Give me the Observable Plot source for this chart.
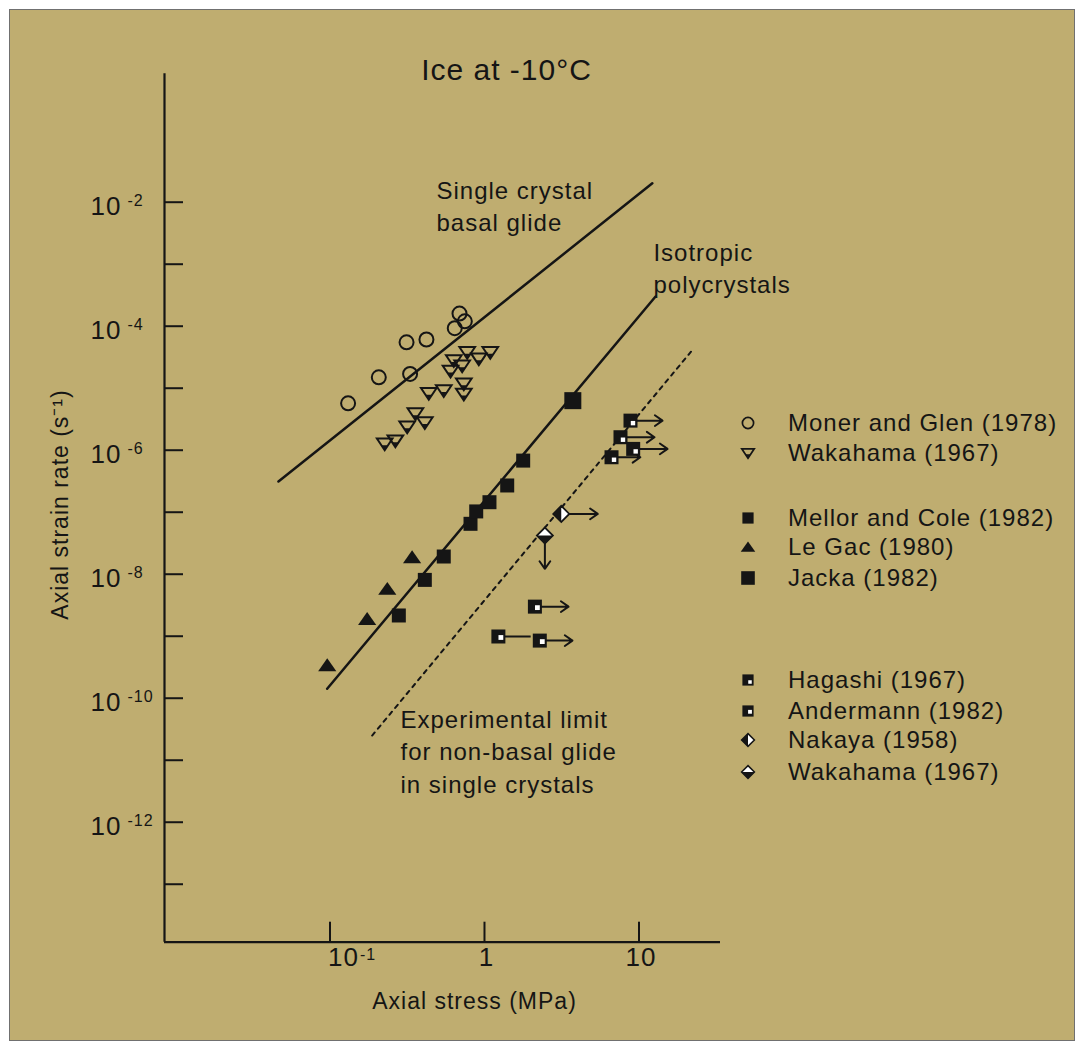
<!DOCTYPE html>
<html>
<head>
<meta charset="utf-8">
<script src="https://cdn.jsdelivr.net/npm/d3@7"></script>
<script src="https://cdn.jsdelivr.net/npm/@observablehq/plot@0.6"></script>
<style>
  html, body { margin: 0; padding: 0; background: #ffffff; }
  #panel { position: absolute; left: 10px; top: 10px; width: 1064px; height: 1030px;
           background: #BFAD70; outline: 1px solid #707070;
           font-family: "Liberation Sans", Arial, sans-serif; color: #151515; }
  #panel svg { position: absolute; left: 0; top: 0; overflow: visible; }
  #panel svg text { letter-spacing: 1px; }
</style>
</head>
<body>
<div id="panel"></div>
<script>
// ---------- axis extents and ticks ----------
const xDomain = [10 ** -2.071, 10 ** 1.5275];     // axial stress, MPa
const yDomain = [10 ** -13.935, 10 ** 0.071];     // axial strain rate, 1/s

const xTickValues = [0.1, 1, 10];
const xTickBase = ["10", "1", "10"];
const xTickExp = ["-1", "", ""];

const yTickValues = [1e-2, 1e-3, 1e-4, 1e-5, 1e-6, 1e-7, 1e-8, 1e-9, 1e-10, 1e-11, 1e-12, 1e-13];
const yLabelValues = [1e-2, 1e-4, 1e-6, 1e-8, 1e-10, 1e-12];
const yLabelExps = ["-2", "-4", "-6", "-8", "-10", "-12"];

// ---------- reference lines (end points) ----------
const basalStress = [0.0464, 12.2];
const basalRate = [3.13e-7, 2.02e-2];
const isoStress = [0.0959, 12.8];
const isoRate = [1.42e-10, 3.01e-4];
const limitStress = [0.1875, 22.2];
const limitRate = [2.5e-11, 4.15e-5];

// ---------- data series ----------
const monerStress = [0.131, 0.207, 0.313, 0.421, 0.330, 0.642, 0.689, 0.746];
const monerRate   = [5.7e-6, 1.5e-5, 5.5e-5, 6.1e-5, 1.7e-5, 9.3e-5, 1.6e-4, 1.2e-4];

const wakahamaStress = [0.226, 0.265, 0.316, 0.357, 0.411, 0.436, 0.545, 0.603, 0.633, 0.717, 0.773, 0.919, 1.09, 0.735, 0.735];
const wakahamaRate   = [1.27e-6, 1.43e-6, 2.4e-6, 3.9e-6, 2.8e-6, 8.3e-6, 9.2e-6, 1.9e-5, 2.8e-5, 2.3e-5, 3.8e-5, 3.0e-5, 3.8e-5, 1.18e-5, 8.1e-6];

const mellorStress = [0.279, 0.411, 0.545, 0.812, 0.884, 1.077, 1.403, 1.78];
const mellorRate   = [2.16e-9, 8.1e-9, 1.93e-8, 6.5e-8, 1.03e-7, 1.45e-7, 2.7e-7, 6.8e-7];

const legacStress = [0.096, 0.174, 0.235, 0.340];
const legacRate   = [3.4e-10, 1.9e-9, 5.8e-9, 1.88e-8];

const jackaStress = [3.73];
const jackaRate   = [6.3e-6];

const hagashiStress   = [8.81, 7.59, 9.17, 6.64];
const hagashiRate     = [3.0e-6, 1.62e-6, 1.05e-6, 7.7e-7];
const hagashiArrowTo  = [14.2, 12.6, 15.3, 10.2];

const andermannStress  = [2.12, 1.23, 2.28];
const andermannRate    = [3.0e-9, 9.9e-10, 8.5e-10];
const andermannArrowTo = [3.5, 1.99, 3.71];
const andermannHead    = [true, false, true];

const nakayaStress  = [3.14];
const nakayaRate    = [9.4e-8];
const nakayaArrowTo = [5.41];

const wakahama2Stress   = [2.46];
const wakahama2Rate     = [4.2e-8];
const wakahama2RateTo   = [1.22e-8];

// ---------- texts ----------
const titleText = "Ice at -10°C";
const xLabelText = "Axial stress (MPa)";
const yLabelText = "Axial strain rate (s⁻¹)";
const annoText   = ["Single crystal\nbasal glide", "Isotropic\npolycrystals", "Experimental limit\nfor non-basal glide\nin single crystals"];
const annoStress = [0.489, 12.4, 0.286];
const annoRate   = [9.2e-3, 9.2e-4, 1.46e-11];

const legendKeys = ["moner", "wakahama", "mellor", "legac", "jacka", "hagashi", "andermann", "nakaya", "wakahama2"];
const legendLabels = ["Moner and Glen (1978)", "Wakahama (1967)", "Mellor and Cole (1982)", "Le Gac (1980)", "Jacka (1982)",
                      "Hagashi (1967)", "Andermann (1982)", "Nakaya (1958)", "Wakahama (1967)"];

// ---------- styling ----------
const INK = "#151515";
const rad = s => Math.sqrt(s / Math.PI);
const sym = {
  tri:   {draw(c, s) { const a = rad(s); c.moveTo(0, -a); c.lineTo(1.3 * a, 0.85 * a); c.lineTo(-1.3 * a, 0.85 * a); c.closePath(); }},
  invTri:{draw(c, s) { const a = rad(s); c.moveTo(0, a); c.lineTo(1.2 * a, -0.8 * a); c.lineTo(-1.2 * a, -0.8 * a); c.closePath(); }},
  sq:    {draw(c, s) { const a = rad(s); c.rect(-a, -a, 2 * a, 2 * a); }},
  diamond:{draw(c, s) { const a = rad(s); c.moveTo(0, -a); c.lineTo(a, 0); c.lineTo(0, a); c.lineTo(-a, 0); c.closePath(); }},
  halfLeft:{draw(c, s) { const a = rad(s); c.moveTo(0, -a); c.lineTo(-a, 0); c.lineTo(0, a); c.closePath(); }},
  halfBottom:{draw(c, s) { const a = rad(s); c.moveTo(-a, 0); c.lineTo(0, a); c.lineTo(a, 0); c.closePath(); }},
  circle: d3.symbolCircle
};
const styles = {
  moner:     [{symbol: sym.circle, r: 7, fill: "none", stroke: INK, strokeWidth: 2}],
  wakahama:  [{symbol: sym.invTri, r: 6.5, fill: "none", stroke: INK, strokeWidth: 2}, {symbol: sym.invTri, r: 2.4, fill: INK, dy: 3.5}],
  mellor:    [{symbol: sym.sq, r: 7, fill: INK}],
  legac:     [{symbol: sym.tri, r: 7, fill: INK}],
  jacka:     [{symbol: sym.sq, r: 8.5, fill: INK}],
  hagashi:   [{symbol: sym.sq, r: 7, fill: INK}, {symbol: sym.sq, r: 2.2, fill: "#ffffff", dx: 2.5, dy: 2.5}],
  andermann: [{symbol: sym.sq, r: 7, fill: INK}, {symbol: sym.sq, r: 2.4, fill: "#ffffff", dx: 2.5, dy: 1}],
  nakaya:    [{symbol: sym.diamond, r: 8, fill: "#ffffff", stroke: INK, strokeWidth: 1.8}, {symbol: sym.halfLeft, r: 8, fill: INK}],
  wakahama2: [{symbol: sym.diamond, r: 8, fill: "#ffffff", stroke: INK, strokeWidth: 1.8}, {symbol: sym.halfBottom, r: 8, fill: INK}]
};

const seriesData = {
  moner: [monerStress, monerRate],
  wakahama: [wakahamaStress, wakahamaRate],
  mellor: [mellorStress, mellorRate],
  legac: [legacStress, legacRate],
  jacka: [jackaStress, jackaRate],
  hagashi: [hagashiStress, hagashiRate],
  andermann: [andermannStress, andermannRate],
  nakaya: [nakayaStress, nakayaRate],
  wakahama2: [wakahama2Stress, wakahama2Rate]
};

// ---------- build marks ----------
const toPts = (xs, ys) => xs.map((x, i) => ({x, y: ys[i]}));
const andermannSegs = andermannStress.map((x, i) => ({x1: x, x2: andermannArrowTo[i], y1: andermannRate[i], y2: andermannRate[i], head: andermannHead[i]}));
const arrowsH = [
  ...hagashiStress.map((x, i) => ({x1: x, x2: hagashiArrowTo[i], y1: hagashiRate[i], y2: hagashiRate[i]})),
  ...andermannSegs.filter(d => d.head),
  ...nakayaStress.map((x, i) => ({x1: x, x2: nakayaArrowTo[i], y1: nakayaRate[i], y2: nakayaRate[i]})),
  ...wakahama2Stress.map((x, i) => ({x1: x, x2: x, y1: wakahama2Rate[i], y2: wakahama2RateTo[i]}))
];
const linksPlain = andermannSegs.filter(d => !d.head);

const marks = [
  Plot.line(toPts(basalStress, basalRate), {x: "x", y: "y", stroke: INK, strokeWidth: 2.5}),
  Plot.line(toPts(isoStress, isoRate), {x: "x", y: "y", stroke: INK, strokeWidth: 2.5}),
  Plot.line(toPts(limitStress, limitRate), {x: "x", y: "y", stroke: INK, strokeWidth: 2, strokeDasharray: "4,5"}),
  Plot.arrow(arrowsH, {x1: "x1", y1: "y1", x2: "x2", y2: "y2", stroke: INK, strokeWidth: 2, headLength: 7, headAngle: 70}),
  Plot.link(linksPlain, {x1: "x1", y1: "y1", x2: "x2", y2: "y2", stroke: INK, strokeWidth: 2})
];
for (const key of legendKeys) {
  const [xs, ys] = seriesData[key];
  const pts = toPts(xs, ys);
  for (const L of styles[key]) {
    marks.push(Plot.dot(pts, {x: "x", y: "y", symbol: L.symbol, r: L.r,
      fill: L.fill ?? "none", stroke: L.stroke ?? "none", strokeWidth: L.strokeWidth ?? 0,
      dx: L.dx ?? 0, dy: L.dy ?? 0}));
  }
}

// axes
marks.push(
  Plot.ruleX([xDomain[0]], {stroke: INK, strokeWidth: 2.2}),
  Plot.ruleY([yDomain[0]], {stroke: INK, strokeWidth: 2.2}),
  Plot.axisY(yTickValues, {anchor: "left", tickSize: 19, dx: 19, fill: "none", label: null, stroke: INK, strokeWidth: 2}),
  Plot.axisX(xTickValues, {anchor: "bottom", tickSize: 20, dy: -20, fill: "none", label: null, stroke: INK, strokeWidth: 2}),
  // y tick labels
  Plot.text(yLabelValues, {y: d => d, frameAnchor: "left", text: () => "10", textAnchor: "end", dx: -43, dy: 4, fontSize: 26, fill: INK}),
  Plot.text(yLabelValues, {y: d => d, frameAnchor: "left", text: (d, i) => yLabelExps[i], textAnchor: "start", dx: -37, dy: -1, fontSize: 16, fill: INK}),
  // x tick labels
  Plot.text(xTickValues, {filter: (d, i) => xTickExp[i] !== "", x: d => d, frameAnchor: "bottom", text: (d, i) => xTickBase[i], textAnchor: "start", dx: -2, dy: 24, fontSize: 26, fill: INK}),
  Plot.text(xTickValues, {filter: (d, i) => xTickExp[i] !== "", x: d => d, frameAnchor: "bottom", text: (d, i) => xTickExp[i], textAnchor: "start", dx: 30, dy: 18, fontSize: 16, fill: INK}),
  Plot.text(xTickValues, {filter: (d, i) => xTickExp[i] === "", x: d => d, frameAnchor: "bottom", text: (d, i) => xTickBase[i], textAnchor: "middle", dx: 2, dy: 24, fontSize: 26, fill: INK}),
  // axis labels & title
  Plot.text([xLabelText], {frameAnchor: "bottom", text: d => d, textAnchor: "middle", dx: 32, dy: 67, fontSize: 23, fill: INK}),
  Plot.text([yLabelText], {frameAnchor: "left", text: d => d, textAnchor: "middle", rotate: -90, dx: -104, dy: -3.5, fontSize: 23, fill: INK}),
  Plot.text([titleText], {frameAnchor: "top", text: d => d, textAnchor: "middle", dx: 64, dy: -14.8, fontSize: 30, fill: INK}),
  // line annotations
  Plot.text(annoText, {x: (d, i) => annoStress[i], y: (d, i) => annoRate[i], text: d => d, textAnchor: "start", lineAnchor: "middle", lineHeight: 1.35, fontSize: 24, fill: INK})
);

const chart = Plot.plot({
  width: 1064,
  height: 1030,
  marginLeft: 154,
  marginRight: 354,
  marginTop: 63.3,
  marginBottom: 98.3,
  x: {type: "log", domain: xDomain},
  y: {type: "log", domain: yDomain},
  style: {background: "transparent", fontFamily: "'Liberation Sans', Arial, sans-serif", color: INK, overflow: "visible"},
  marks
});
const panel = document.getElementById("panel");
panel.appendChild(chart);

// ---------- legend (to the right of the axes) ----------
const legendRowY = [413, 443, 508, 537, 568, 670, 701, 730, 762];
const legendSymX = 738, legendTextX = 778, legendScale = 0.8;
const leg = d3.create("svg").attr("width", 1064).attr("height", 1030);
legendKeys.forEach((key, i) => {
  const g = leg.append("g").attr("transform", `translate(${legendSymX},${legendRowY[i]})`);
  for (const L of styles[key]) {
    const r = L.r * legendScale;
    g.append("path")
      .attr("d", d3.symbol(L.symbol, Math.PI * r * r)())
      .attr("transform", `translate(${(L.dx ?? 0) * legendScale},${(L.dy ?? 0) * legendScale})`)
      .attr("fill", L.fill ?? "none")
      .attr("stroke", L.stroke ?? "none")
      .attr("stroke-width", L.strokeWidth ? L.strokeWidth * 0.85 : 0);
  }
  leg.append("text")
    .attr("x", legendTextX).attr("y", legendRowY[i])
    .attr("dy", "0.35em")
    .attr("font-size", 24)
    .attr("fill", INK)
    .text(legendLabels[i]);
});
panel.appendChild(leg.node());
</script>
</body>
</html>
